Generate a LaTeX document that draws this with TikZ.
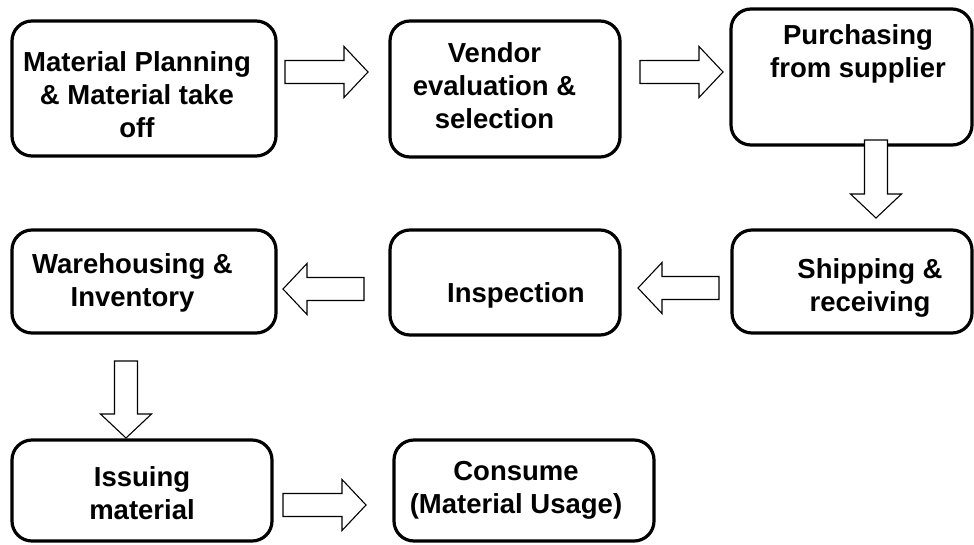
\documentclass[tikz,border=0pt]{standalone}
\usepackage{fontspec}
\setmainfont{Liberation Sans}
\usetikzlibrary{calc}
\tikzset{
  box/.style={draw=black, line width=3.2pt, rounded corners=20pt, fill=white, inner sep=0pt},
  txt/.style={align=center, inner sep=0pt, font=\fontsize{27.5}{33}\selectfont\bfseries},
  barrow/.style={draw=black, line width=1.1pt, fill=white, line join=miter}
}
\newcommand{\blockarrow}[3]{%
  \coordinate (#1h) at ($(#3)!24pt!(#2)$);
  \draw[barrow] ($(#2)!11.5pt!90:(#3)$) -- ($(#1h)!11.5pt!-90:(#2)$) -- ($(#1h)!25.5pt!-90:(#2)$) -- (#3) -- ($(#1h)!25.5pt!90:(#2)$) -- ($(#1h)!11.5pt!90:(#2)$) -- ($(#2)!11.5pt!-90:(#3)$) -- cycle;}
\begin{document}
\begin{tikzpicture}[x=1pt,y=-1pt]
\useasboundingbox (0,0) rectangle (974,544);
% boxes
\node[box, minimum width=264pt, minimum height=135pt] (b1) at (144,88.5) {};
\node[box, minimum width=230pt, minimum height=136pt] (b2) at (505,89) {};
\node[box, minimum width=241pt, minimum height=136pt] (b3) at (851.5,77) {};
\node[box, minimum width=264pt, minimum height=103pt] (b4) at (144,281.5) {};
\node[box, minimum width=230pt, minimum height=105pt] (b5) at (505,282.5) {};
\node[box, minimum width=240pt, minimum height=103pt] (b6) at (852,281.5) {};
\node[box, minimum width=260pt, minimum height=101pt] (b7) at (142,490.5) {};
\node[box, minimum width=260pt, minimum height=101pt] (b8) at (524,490.5) {};
% texts
\node[txt] (t1) at (137,95) {Material Planning\\\& Material take\\off};
\node[txt] (t2) at (494.5,86) {Vendor\\evaluation \&\\selection};
\node[txt] (t3) at (858,54) {Purchasing\\from supplier};
\node[txt] (t4) at (132.5,283) {Warehousing \&\\Inventory};
\node[txt] (t5) at (516,295) {Inspection};
\node[txt] (t6) at (870,288) {Shipping \&\\receiving};
\node[txt] (t7) at (142,493) {Issuing\\material};
\node[txt] (t8) at (516,490) {Consume\\(Material Usage)};
% arrow end points
\coordinate (a1s) at (285,72);  \coordinate (a1e) at (368,72);
\coordinate (a2s) at (640,72);  \coordinate (a2e) at (723,72);
\coordinate (a3s) at (876,140); \coordinate (a3e) at (876,218);
\coordinate (a4s) at (364,289); \coordinate (a4e) at (283,289);
\coordinate (a5s) at (719,288); \coordinate (a5e) at (638,288);
\coordinate (a6s) at (126,361); \coordinate (a6e) at (126,438);
\coordinate (a7s) at (283,505); \coordinate (a7e) at (366,505);
\blockarrow{a1}{a1s}{a1e}
\blockarrow{a2}{a2s}{a2e}
\blockarrow{a3}{a3s}{a3e}
\blockarrow{a4}{a4s}{a4e}
\blockarrow{a5}{a5s}{a5e}
\blockarrow{a6}{a6s}{a6e}
\blockarrow{a7}{a7s}{a7e}
\end{tikzpicture}
\end{document}
